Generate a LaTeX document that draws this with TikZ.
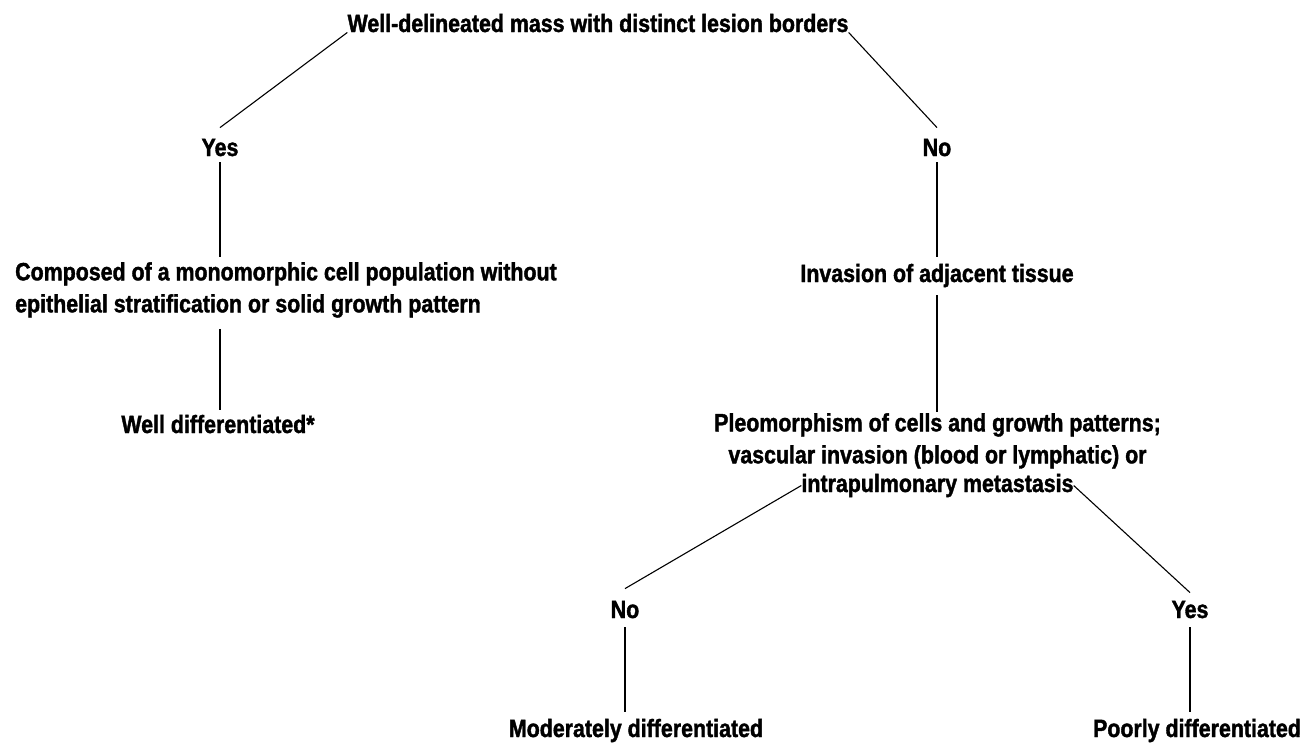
\documentclass[tikz,border=0pt]{standalone}
\usepackage{fontspec}
\newfontfamily\treefont{Liberation Sans}[FakeStretch=0.855,FakeBold=1.5]
\begin{document}
\begin{tikzpicture}[
  x=1pt, y=-1pt,
  lbl/.style={inner sep=0pt, font=\treefont\bfseries\fontsize{25}{32}\selectfont},
  link/.style={line width=1.5pt, black},
  slant/.style={line width=1.1pt, black}
]
\useasboundingbox (0,0) rectangle (1304,744);

% question and answer labels
\node[lbl, anchor=base] (top) at (598,32) {Well-delineated mass with distinct lesion borders};
\node[lbl, anchor=base] (yesA) at (220,156) {Yes};
\node[lbl, anchor=base] (noA) at (937,156) {No};

\node[lbl, anchor=north west, align=left] (comp) at (15,262)
  {Composed of a monomorphic cell population without\\epithelial stratification or solid growth pattern};
\node[lbl, anchor=base] (welld) at (218,433) {Well differentiated*};

\node[lbl, anchor=base] (inv) at (937,282) {Invasion of adjacent tissue};
\node[lbl, anchor=north, align=center] (pleo) at (937.5,413)
  {Pleomorphism of cells and growth patterns;\\vascular invasion (blood or lymphatic) or};
\node[lbl, anchor=base] (pleoEnd) at (937.5,492) {intrapulmonary metastasis};

\node[lbl, anchor=base] (noB) at (625,618) {No};
\node[lbl, anchor=base] (yesB) at (1190,618) {Yes};
\node[lbl, anchor=base] (modd) at (636,737) {Moderately differentiated};
\node[lbl, anchor=base] (poor) at (1197,737) {Poorly differentiated};

% branches
\draw[slant] (top.south west) -- ([yshift=11pt]yesA.north);
\draw[slant] (top.south east) -- ([yshift=11pt]noA.north);
\draw[link] ([yshift=-6pt]yesA.south) -- ([yshift=5pt]yesA.south |- comp.north);
\draw[link] ([yshift=-11pt]yesA.south |- comp.south) -- ([yshift=5pt]yesA.south |- welld.north);
\draw[link] ([yshift=-6pt]noA.south) -- ([yshift=7pt]inv.north);
\draw[link] ([yshift=-8pt]inv.south) -- ([yshift=1pt]inv.south |- pleo.north);
\draw[slant] (pleoEnd.west) -- ([yshift=12pt]noB.north);
\draw[slant] (pleoEnd.east) -- ([yshift=8pt]yesB.north);
\draw[link] ([yshift=-9pt]noB.south) -- ([yshift=7pt]noB.south |- modd.north);
\draw[link] ([yshift=-9pt]yesB.south) -- ([yshift=7pt]yesB.south |- poor.north);
\end{tikzpicture}
\end{document}
